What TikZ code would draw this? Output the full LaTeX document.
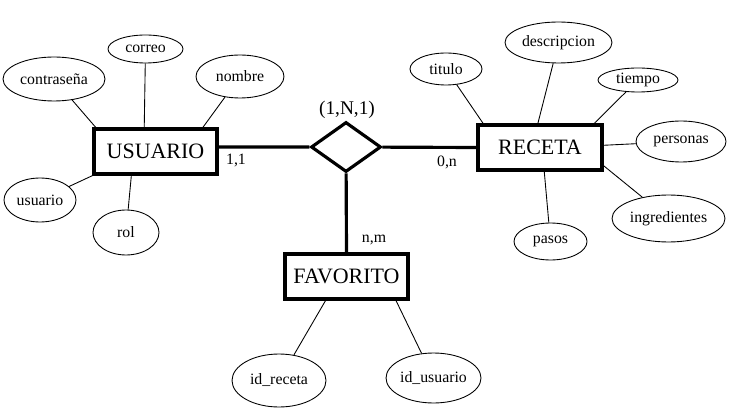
\documentclass[tikz,border=0pt]{standalone}
\usepackage{fontspec}
\setmainfont{Liberation Serif}
\usetikzlibrary{positioning, shapes.geometric}

\tikzset{
    entity/.style={draw, line width=1.9pt, rectangle, inner sep=0pt,
        minimum width=2.46cm, minimum height=0.9cm, font=\fontsize{12.5}{15}\selectfont},
    attr/.style={draw, ellipse, line width=0.5pt, inner sep=0pt, font=\fontsize{9}{11}\selectfont},
    rel/.style={draw, diamond, line width=1.8pt, inner sep=0pt, aspect=1.4,
        minimum width=1.4cm, minimum height=1cm},
    attrline/.style={line width=0.5pt},
    relline/.style={line width=1.8pt},
    card/.style={font=\fontsize{9}{11}\selectfont}
}

\begin{document}
\begin{tikzpicture}[x=0.02cm, y=-0.02cm]
    \useasboundingbox (0,0) rectangle (732,418);
    % 1. Entities and relationship
    \node[entity] (usuario) at (155.5,151.5) {USUARIO};
    \node[entity, minimum width=2.48cm] (receta) at (540,147.5) {RECETA};
    \node[entity] (favorito) at (346.5,276.5) {FAVORITO};
    \node[rel] (favrel) at (346,147) {};
    \node[font=\fontsize{11}{13}\selectfont] (favcard) at (347,110) {(1,N,1)};
    % 2. Attributes of USUARIO
    \node[attr, minimum width=1.5cm, minimum height=0.56cm] (correo) at (145.5,49) {correo};
    \node[attr, minimum width=2.04cm, minimum height=0.88cm] (contrasena) at (54,79) {contraseña};
    \node[attr, minimum width=1.76cm, minimum height=0.86cm] (nombre) at (240,76.5) {nombre};
    \node[attr, minimum width=1.44cm, minimum height=0.88cm] (usuarioattr) at (40,200) {usuario};
    \node[attr, minimum width=1.32cm, minimum height=0.9cm] (rol) at (126,232.5) {rol};
    \draw[attrline] (correo) -- (usuario.115);
    \draw[attrline] (contrasena) -- (usuario.158);
    \draw[attrline] (nombre) -- (usuario.27);
    \draw[attrline] (usuarioattr) -- (usuario.south west);
    \draw[attrline] (rol) -- (usuario.225);
    % 3. Attributes of RECETA
    \node[attr, minimum width=1.44cm, minimum height=0.64cm] (titulo) at (446,69) {titulo};
    \node[attr, minimum width=2.14cm, minimum height=0.82cm] (descripcion) at (558.5,42.5) {descripcion};
    \node[attr, minimum width=1.6cm, minimum height=0.48cm] (tiempo) at (638,80) {tiempo};
    \node[attr, minimum width=1.8cm, minimum height=0.82cm] (personas) at (681,141.5) {personas};
    \node[attr, minimum width=2.26cm, minimum height=0.94cm] (ingredientes) at (668.5,218.5) {ingredientes};
    \node[attr, minimum width=1.46cm, minimum height=0.74cm] (pasos) at (550.5,241.5) {pasos};
    \draw[attrline] (titulo) -- (receta.157);
    \draw[attrline] (descripcion) -- (receta.95);
    \draw[attrline] (tiempo) -- (receta.24);
    \draw[attrline] (personas) -- (receta.2);
    \draw[attrline] (ingredientes) -- (receta.344);
    \draw[attrline] (pasos) -- (receta.280);
    % 4. Attributes of FAVORITO
    \node[attr, minimum width=1.88cm, minimum height=1.06cm] (idreceta) at (279,380.5) {id\_receta};
    \node[attr, minimum width=1.9cm, minimum height=1cm] (idusuario) at (433.5,378) {id\_usuario};
    \draw[attrline] (idreceta) -- (favorito.229);
    \draw[attrline] (idusuario) -- (favorito.334);
    % 5. Relationship lines and cardinalities
    \draw[relline] (usuario.4) -- (favrel);
    \draw[relline] (favrel) -- (receta.west);
    \draw[relline] (favrel) -- (favorito.north);
    \node[card] (card11) at (236,160) {1,1};
    \node[card] (card0n) at (447,162) {0,n};
    \node[card] (cardnm) at (374,240) {n,m};
\end{tikzpicture}
\end{document}
